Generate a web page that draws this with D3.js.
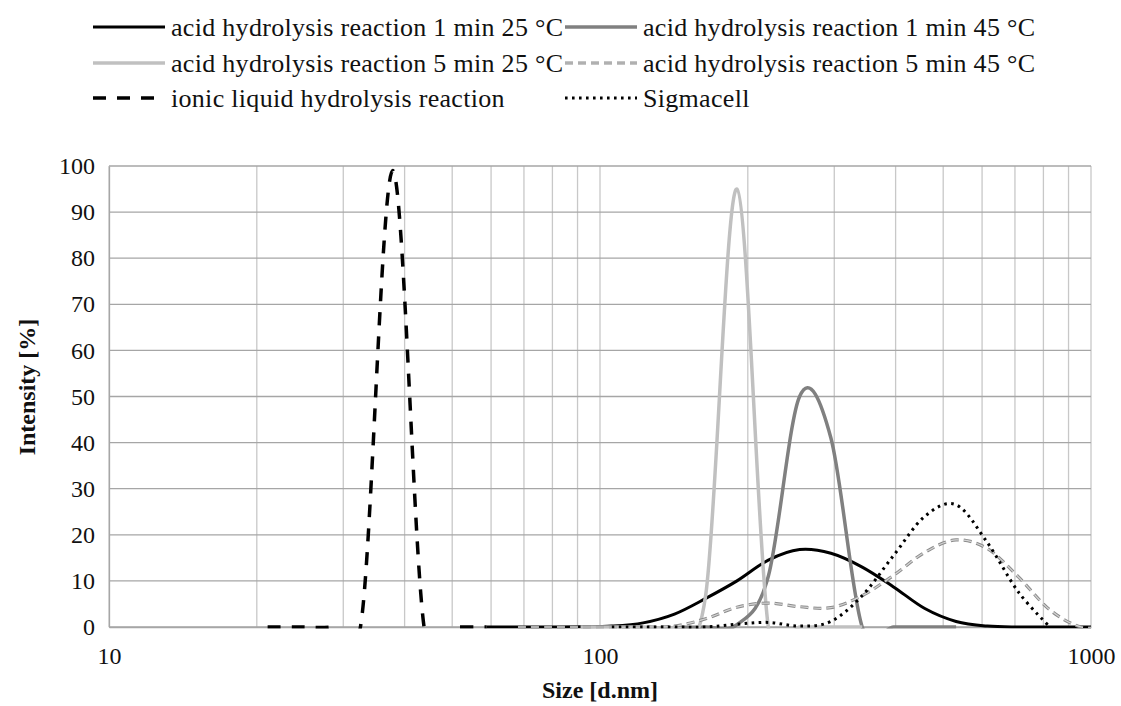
<!DOCTYPE html>
<meta charset="utf-8">
<style>
    body {
        margin: 0;
        background-color: #ffffff;
    }

    text {
        font-family: "Liberation Serif", "Times New Roman", serif;
        fill: #111;
    }

    .axis path,
    .axis line {
        fill: none;
    }

    .grid-h {
        stroke: #a6a6a6;
        stroke-width: 1.3px;
    }

    .grid-v {
        stroke: #c8c8c8;
        stroke-width: 1.3px;
    }

    .series {
        fill: none;
        stroke-linejoin: round;
    }
</style>

<body>
    <svg width="1121" height="706"></svg>
</body>
<script src="https://d3js.org/d3.v7.min.js"></script>
<script>
    // size bins [d.nm]
    var sizes = [18.17, 21.04, 24.36, 28.21, 32.67, 37.84, 43.82, 50.75, 58.77, 68.06,
        78.82, 91.28, 105.7, 122.4, 141.8, 164.2, 190.1, 220.2, 255.0, 295.3,
        342.0, 396.1, 458.7, 531.2, 615.1, 712.4, 825.0, 955.4, 1106];

    // intensity [%] per size bin, null = not measured
    var acid1min25 = [null, null, null, null, null, null, null, null, 0, 0,
        0, 0.05, 0.2, 0.9, 2.8, 6.2, 10.0, 14.5, 16.8, 16.0,
        13.0, 8.7, 4.0, 1.2, 0.2, 0, 0, 0, 0];
    var acid1min45 = [null, null, null, null, null, null, null, null, null, null,
        null, null, null, null, 0, 0, 0.5, 11, 50, 41,
        0, 0, 0, 0, null, null, null, null, null];
    var acid5min25 = [null, null, null, null, null, null, null, null, null, null,
        null, 0, 0, 0, 0, 7, 95, 0, 0, 0,
        0, null, null, null, null, null, null, null, null];
    var acid5min45 = [null, null, null, null, null, null, null, null, null, 0,
        0, 0, 0, 0, 0.2, 1.8, 4.3, 5.2, 4.4, 4.2,
        6.8, 11.2, 16.2, 18.9, 17.0, 10.8, 3.7, 0, 0];
    var ionicLiquid = [null, 0, 0, 0, 1.5, 99, 0, 0, 0, null,
        null, null, null, null, null, null, null, null, null, null,
        null, null, null, null, null, null, null, null, null];
    var sigmacell = [null, null, null, null, null, null, null, null, null, null,
        null, null, 0, 0, 0, 0, 0.6, 1.0, 0.2, 1.2,
        6.8, 15.5, 24, 26.5, 18.3, 7.5, 0, null, null];

    var seriesNames = ["acid hydrolysis reaction 1 min 25 °C", "acid hydrolysis reaction 1 min 45 °C",
        "acid hydrolysis reaction 5 min 25 °C", "acid hydrolysis reaction 5 min 45 °C",
        "ionic liquid hydrolysis reaction", "Sigmacell"];
    var xTickValues = [10, 100, 1000];
    var yTickValues = [0, 10, 20, 30, 40, 50, 60, 70, 80, 90, 100];

    // inner: optional lighter core stroke (hollow look of the gray dashes)
    var series = [
        { name: seriesNames[0], values: acid1min25, color: "#000000", width: 3, dash: null },
        { name: seriesNames[1], values: acid1min45, color: "#808080", width: 3.5, dash: null },
        { name: seriesNames[2], values: acid5min25, color: "#c0c0c0", width: 3.5, dash: null },
        { name: seriesNames[3], values: acid5min45, color: "#8c8c8c", width: 3.2, dash: "8,5", inner: "#d4d4d4" },
        { name: seriesNames[4], values: ionicLiquid, color: "#000000", width: 3.5, dash: "13,11" },
        { name: seriesNames[5], values: sigmacell, color: "#000000", width: 3, dash: "2.6,4.4" }
    ];

    var svg = d3.select("svg"),
        margin = { top: 166, right: 30, bottom: 79, left: 109 },
        width = +svg.attr("width") - margin.left - margin.right,
        height = +svg.attr("height") - margin.top - margin.bottom;

    var x = d3.scaleLog().domain([10, 1000]).range([0, width]);
    var y = d3.scaleLinear().domain([0, 100]).range([height, 0]);

    var g = svg.append("g")
        .attr("transform", "translate(" + margin.left + "," + margin.top + ")");

    // gridlines
    g.append("g").selectAll("line")
        .data(x.ticks())
        .enter().append("line")
        .attr("class", "grid-v")
        .attr("x1", function(d) { return x(d); })
        .attr("x2", function(d) { return x(d); })
        .attr("y1", 0)
        .attr("y2", height);

    g.append("g").selectAll("line")
        .data(yTickValues)
        .enter().append("line")
        .attr("class", "grid-h")
        .attr("x1", 0)
        .attr("x2", width)
        .attr("y1", function(d) { return y(d); })
        .attr("y2", function(d) { return y(d); });

    // axes
    var xAxis = g.append("g")
        .attr("class", "axis axis--x")
        .attr("transform", "translate(0," + height + ")")
        .call(d3.axisBottom(x).tickValues(xTickValues).tickSize(0).tickPadding(20)
            .tickFormat(d3.format("d")));
    xAxis.select(".domain").attr("stroke", "#a6a6a6").attr("stroke-width", 1.3);
    xAxis.selectAll("text").style("font-size", "24px").attr("fill", "#111");

    var yAxis = g.append("g")
        .attr("class", "axis axis--y")
        .call(d3.axisLeft(y).tickValues(yTickValues).tickSize(0).tickPadding(14));
    yAxis.select(".domain").attr("stroke", "#a6a6a6").attr("stroke-width", 1.3);
    yAxis.selectAll("text").style("font-size", "24px").attr("fill", "#111");

    // clip like the plot area
    svg.append("defs").append("clipPath")
        .attr("id", "plot-clip")
        .append("rect")
        .attr("x", 0)
        .attr("y", -10)
        .attr("width", width)
        .attr("height", height + 11.5);

    var line = d3.line()
        .defined(function(d) { return d[1] != null; })
        .x(function(d) { return x(d[0]); })
        .y(function(d) { return y(d[1]); })
        .curve(d3.curveCardinal.tension(0));

    var plot = g.append("g").attr("clip-path", "url(#plot-clip)");

    series.forEach(function(s) {
        var pts = sizes.map(function(v, i) { return [v, s.values[i]]; });
        plot.append("path")
            .attr("class", "series")
            .attr("stroke", s.color)
            .attr("stroke-width", s.width)
            .attr("stroke-dasharray", s.dash)
            .attr("d", line(pts));
        if (s.inner) {
            plot.append("path")
                .attr("class", "series")
                .attr("stroke", s.inner)
                .attr("stroke-width", s.width - 2)
                .attr("stroke-dasharray", s.dash)
                .attr("d", line(pts));
        }
    });

    // axis titles
    svg.append("text")
        .attr("x", margin.left + x(100))
        .attr("y", 698)
        .attr("text-anchor", "middle")
        .style("font-size", "24px")
        .style("font-weight", "bold")
        .text("Size [d.nm]");

    svg.append("text")
        .attr("transform", "translate(35,387) rotate(-90)")
        .attr("text-anchor", "middle")
        .style("font-size", "24px")
        .style("font-weight", "bold")
        .text("Intensity [%]");

    // legend, 2 columns x 3 rows
    var legend = svg.append("g").attr("class", "legend");
    var colX = [93, 565],
        rowY = [27, 63, 98],
        sampleLen = 72;

    series.forEach(function(s, i) {
        var cx = colX[i % 2],
            cy = rowY[Math.floor(i / 2)];
        legend.append("line")
            .attr("x1", cx)
            .attr("x2", cx + sampleLen)
            .attr("y1", cy)
            .attr("y2", cy)
            .attr("stroke", s.color)
            .attr("stroke-width", s.width)
            .attr("stroke-dasharray", s.dash);
        if (s.inner) {
            legend.append("line")
                .attr("x1", cx)
                .attr("x2", cx + sampleLen)
                .attr("y1", cy)
                .attr("y2", cy)
                .attr("stroke", s.inner)
                .attr("stroke-width", s.width - 2)
                .attr("stroke-dasharray", s.dash);
        }
        legend.append("text")
            .attr("x", cx + sampleLen + 6)
            .attr("y", cy)
            .attr("dy", "0.33em")
            .style("font-size", "26px")
            .style("letter-spacing", "0.3px")
            .text(s.name);
    });
</script>
